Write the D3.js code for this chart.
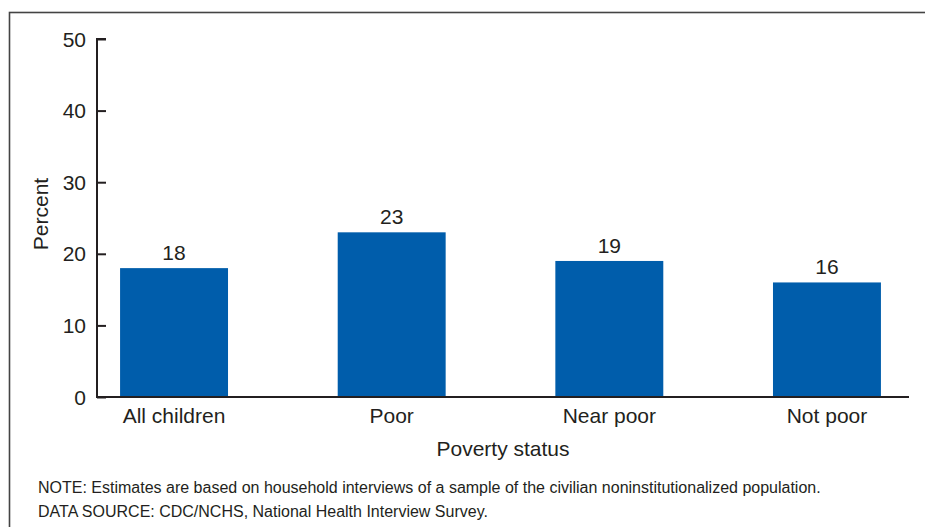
<!DOCTYPE html>
<html>
<head>
<meta charset="utf-8">
<script src="https://cdn.jsdelivr.net/npm/d3@7"></script>
<style>
  html, body { margin: 0; padding: 0; background: #fff; }
  svg { display: block; font-family: Arial, "Liberation Sans", sans-serif; }
</style>
</head>
<body>
<script>
const categories = ["All children", "Poor", "Near poor", "Not poor"];
const values = [18, 23, 19, 16];
const yTicks = [0, 10, 20, 30, 40, 50];
const yTitle = "Percent";
const xTitle = "Poverty status";
const notes = [
  "NOTE: Estimates are based on household interviews of a sample of the civilian noninstitutionalized population.",
  "DATA SOURCE: CDC/NCHS, National Health Interview Survey."
];

const W = 925, H = 527;
const textColor = "#231f20";
const barColor = "#005dab";

const svg = d3.select("body").append("svg").attr("width", W).attr("height", H);

// frame
svg.append("rect").attr("x", 9.5).attr("y", 12.5).attr("width", W).attr("height", H)
  .attr("fill", "none").attr("stroke", "#444").attr("stroke-width", 1.6);

const x0 = 97, x1 = 909, yTop = 39, yBot = 397;
const x = d3.scaleBand().domain(categories).range([x0, 904]).paddingInner(0.504).paddingOuter(0.106);
const y = d3.scaleLinear().domain([0, 50]).range([yBot, yTop]);

// bars
svg.selectAll("rect.bar").data(values).join("rect").attr("class", "bar")
  .attr("x", (d, i) => x(categories[i]))
  .attr("width", x.bandwidth())
  .attr("y", d => y(d))
  .attr("height", d => y(0) - y(d))
  .attr("fill", barColor);

// value labels
svg.selectAll("text.val").data(values).join("text").attr("class", "val")
  .attr("x", (d, i) => x(categories[i]) + x.bandwidth() / 2)
  .attr("y", d => y(d) - 8)
  .attr("text-anchor", "middle").attr("font-size", 21).attr("fill", textColor)
  .text(d => d);

// y axis (ticks inward)
const yAxis = d3.axisRight(y).tickValues(yTicks).tickSize(9).tickFormat("");
const gy = svg.append("g").attr("transform", `translate(${x0},0)`).call(yAxis);
gy.select(".domain").attr("stroke", textColor).attr("stroke-width", 2).attr("d", `M9,${yTop}H0V${yBot}`);
gy.selectAll(".tick line").attr("stroke", textColor).attr("stroke-width", 2);

svg.selectAll("text.ytick").data(yTicks).join("text").attr("class", "ytick")
  .attr("x", 86).attr("y", d => y(d)).attr("dy", "0.36em")
  .attr("text-anchor", "end").attr("font-size", 21).attr("fill", textColor)
  .text(d => d);

// x axis line
svg.append("line").attr("x1", x0 - 1).attr("x2", x1).attr("y1", yBot).attr("y2", yBot)
  .attr("stroke", textColor).attr("stroke-width", 2);

// category labels
const xAxis = d3.axisBottom(x).tickSize(0).tickPadding(0);
const gx = svg.append("g").attr("transform", `translate(0,${yBot})`).call(xAxis);
gx.select(".domain").remove();
gx.selectAll(".tick text").attr("font-size", 21).attr("fill", textColor)
  .attr("font-family", "Arial, 'Liberation Sans', sans-serif")
  .attr("dy", null).attr("y", 26);

// titles
svg.append("text").attr("x", (x0 + x1) / 2).attr("y", 456).attr("text-anchor", "middle")
  .attr("font-size", 21).attr("fill", textColor).text(xTitle);
svg.append("text").attr("transform", "translate(48,214) rotate(-90)").attr("text-anchor", "middle")
  .attr("font-size", 21).attr("fill", textColor).text(yTitle);

// notes
svg.selectAll("text.note").data(notes).join("text").attr("class", "note")
  .attr("x", 38).attr("y", (d, i) => 493 + i * 24)
  .attr("font-size", 16).attr("fill", textColor).text(d => d);
</script>
</body>
</html>
